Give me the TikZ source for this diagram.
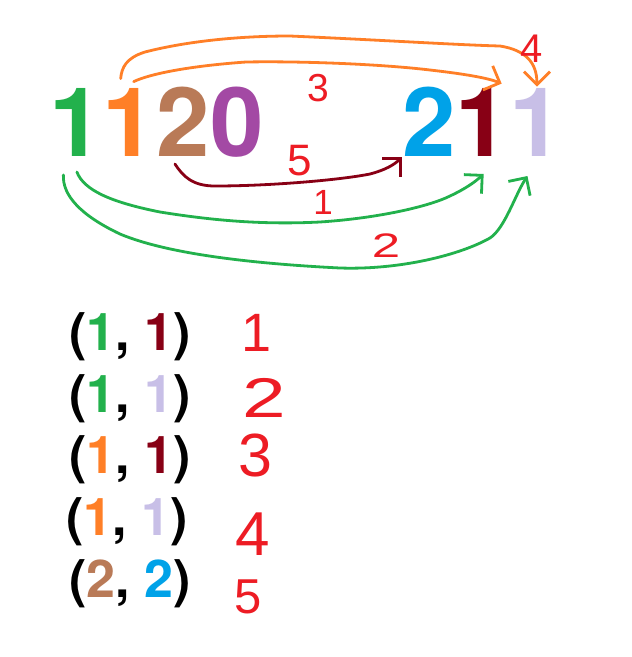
\documentclass[tikz,border=0pt]{standalone}
\usepackage{fontspec}
\setmainfont{Liberation Sans}
\newfontfamily\digitfont{TeX Gyre Heros}
\usetikzlibrary{arrows.meta}
\definecolor{pgreen}{HTML}{22B14C}
\definecolor{porange}{HTML}{FF7F27}
\definecolor{pbrown}{HTML}{B97A57}
\definecolor{ppurple}{HTML}{A349A4}
\definecolor{pblue}{HTML}{00A2E8}
\definecolor{pdred}{HTML}{880015}
\definecolor{plav}{HTML}{C8BFE7}
\definecolor{pred}{HTML}{ED1C24}
\begin{document}
\begin{tikzpicture}[x=1pt,y=-1pt,
  big/.style={font=\digitfont\bfseries\fontsize{96}{96}\selectfont, inner sep=0pt, text height=69pt, text depth=0pt, anchor=south west},
  rowtext/.style={font=\digitfont\bfseries\fontsize{52}{52}\selectfont, inner sep=0pt, anchor=base west},
  redlab/.style={text=pred, inner sep=0pt, text depth=0pt},
  curve/.style={line width=2.8pt, line cap=round, line join=round, -{Straight Barb[length=13pt,width=26pt]}}
]
\useasboundingbox[fill=white] (0,0) rectangle (632,657);

% top row digits
\node[big, text=pgreen]  (g1)  at (49,157) {1};
\node[big, text=porange] (o1)  at (g1.south east) {1};
\node[big, text=pbrown]  (b2)  at (o1.south east) {2};
\node[big, text=ppurple] (p0)  at (b2.south east) {0};
\node[big, text=pblue]   (bl2) at (402,157) {2};
\node[big, text=pdred]   (dr1) at (bl2.south east) {1};
\node[big, text=plav]    (lv1) at (dr1.south east) {1};

% curves
\draw[curve, porange] ([shift={(-9,-9)}]o1.north)
  .. controls +(1,-11) and (126,58) .. (145,52)
  .. controls (180,43) and (230,36) .. (290,36)
  .. controls (380,40) and (460,45) .. (500,46)
  .. controls (525,50) and (537,62) .. ([shift={(0.5,-1)}]lv1.north);
\draw[curve, porange] ([shift={(4,-6)}]o1.north)
  .. controls +(17,-8) and (190,66) .. (246,62)
  .. controls (300,61) and (380,64) .. (430,70)
  .. controls (465,74) and (488,78) .. ([shift={(19,-4)}]dr1.north);
\draw[curve, pdred] ([shift={(-8.5,7)}]b2.south)
  .. controls +(8,12) and (192,186) .. (215,186)
  .. controls (270,186) and (340,180) .. (370,174)
  .. controls (385,170) and (394,165) .. (bl2.south west);
\draw[curve, pgreen] ([shift={(1,15)}]g1.south)
  .. controls +(7,18) and (110,202) .. (160,212)
  .. controls (210,220) and (260,225) .. (320,222)
  .. controls (380,218) and (430,206) .. (450,196)
  .. controls (465,189) and (475,182) .. ([shift={(1,17)}]dr1.south);
\draw[curve, pgreen] ([shift={(-12.5,18)}]g1.south)
  .. controls +(-1,20) and (80,215) .. (120,234)
  .. controls (170,255) and (260,264) .. (340,268)
  .. controls (400,270) and (460,255) .. (490,238)
  .. controls (505,228) and (515,195) .. ([shift={(-9,19)}]lv1.south);

% red labels on the top diagram
\node[redlab, font=\fontsize{39}{39}\selectfont, text height=28pt] (t3) at (318,87.5) {3};
\node[redlab, font=\fontsize{40}{40}\selectfont, text height=29pt] (t4) at (531.5,47.5) {4};
\node[redlab, font=\fontsize{44}{44}\selectfont, text height=32pt] (t5) at (300,159) {5};
\node[redlab, font=\fontsize{35}{35}\selectfont, text height=25pt] (t1) at (323,202) {1};
\node[redlab, font=\fontsize{34}{34}\selectfont, text height=24pt, xscale=1.5] (t2) at (386,245) {2};

% pair list
\node[rowtext] (r1) at (69,350) {(\textcolor{pgreen}{1}, \textcolor{pdred}{1})};
\node[rowtext] (r2) at (69,412) {(\textcolor{pgreen}{1}, \textcolor{plav}{1})};
\node[rowtext] (r3) at (69,473) {(\textcolor{porange}{1}, \textcolor{pdred}{1})};
\node[rowtext] (r4) at (66,535) {(\textcolor{porange}{1}, \textcolor{plav}{1})};
\node[rowtext] (r5) at (69,597) {(\textcolor{pbrown}{2}, \textcolor{pblue}{2})};

\node[redlab, font=\fontsize{54}{54}\selectfont, text height=38.7pt] (n1) at (257,332) {1};
\node[redlab, font=\fontsize{56}{56}\selectfont, text height=40pt, xscale=1.4] (n2) at (264,397) {2};
\node[redlab, font=\fontsize{61}{61}\selectfont, text height=43.7pt] (n3) at (255,455) {3};
\node[redlab, font=\fontsize{62}{62}\selectfont, text height=44.4pt] (n4) at (253,533) {4};
\node[redlab, font=\fontsize{49}{49}\selectfont, text height=35pt] (n5) at (248,596) {5};
\end{tikzpicture}
\end{document}
